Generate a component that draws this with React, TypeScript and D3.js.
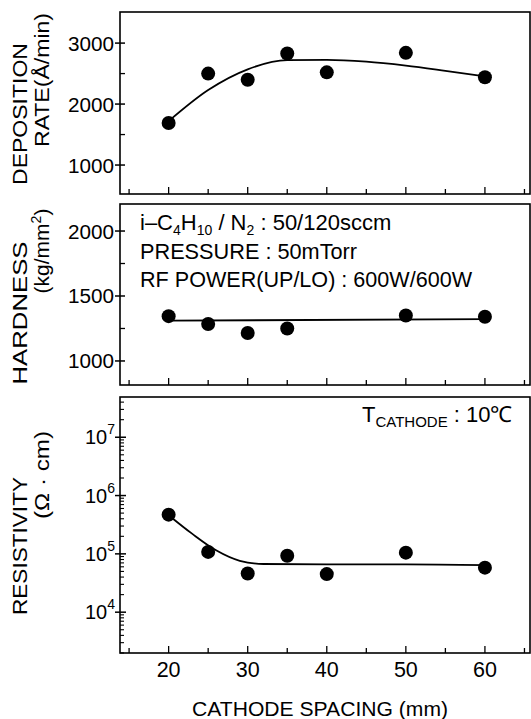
import React from 'react';
import * as d3 from 'd3';

// CATHODE SPACING (mm)
const spacingA = [20, 25, 30, 35, 40, 50, 60];
const depoRate = [1690, 2500, 2400, 2830, 2520, 2840, 2440];
const depoFitX = [20, 25, 30, 35, 40, 45, 50, 55, 60];
const depoFitY = [1720, 2230, 2570, 2720, 2725, 2695, 2630, 2545, 2455];

const spacingB = [20, 25, 30, 35, 50, 60];
const hardness = [1345, 1285, 1215, 1250, 1350, 1340];
const hardFitX = [20, 60];
const hardFitY = [1310, 1322];

const resistivity = [4.7e5, 1.08e5, 4.6e4, 9.3e4, 4.5e4, 1.05e5, 5.8e4];
const resFitX = [20, 23, 26, 29, 32, 40, 50, 60];
const resFitY = [4.6e5, 2.2e5, 1.15e5, 7.6e4, 6.7e4, 6.6e4, 6.6e4, 6.4e4];

const xTicks = [20, 30, 40, 50, 60];
const depoTicks = [1000, 2000, 3000];
const hardTicks = [1000, 1500, 2000];
const resTicks = [4, 5, 6, 7];

const L = 120, R = 530;
const font = 'Liberation Sans, Arial, sans-serif';

const x = d3.scaleLinear().domain([13.85, 65.7]).range([L, R]);
const yTop = d3.scaleLinear().domain([525, 3510]).range([194, 12]);
const yMid = d3.scaleLinear().domain([815, 2208]).range([385, 204]);
const yBot = d3.scaleLog().domain([10 ** 3.3, 10 ** 7.69]).range([653, 397]);

function Frame({ top, bottom }: { top: number; bottom: number }) {
  const minor = d3.range(15, 66, 5);
  return (
    <g>
      <rect x={L} y={top} width={R - L} height={bottom - top} fill="none" stroke="#000" strokeWidth={1.6} />
      {minor.map(v => (
        <line key={v} x1={x(v)} x2={x(v)} y1={bottom} y2={bottom - (v % 10 === 0 ? 7 : 5)} stroke="#000" strokeWidth={1.3} />
      ))}
    </g>
  );
}

function LinearY({ scale, ticks, minors }: { scale: any; ticks: number[]; minors: number[] }) {
  return (
    <g>
      {minors.map(v => (
        <line key={'m' + v} x1={L} x2={L + 5} y1={scale(v)} y2={scale(v)} stroke="#000" strokeWidth={1.3} />
      ))}
      {ticks.map(v => (
        <g key={v}>
          <line x1={L - 5} x2={L + 5} y1={scale(v)} y2={scale(v)} stroke="#000" strokeWidth={1.5} />
          <text x={L - 6} y={scale(v) + 7.5} textAnchor="end" fontSize={20.7}>{v}</text>
        </g>
      ))}
    </g>
  );
}

function Dots({ xs, ys, yScale }: { xs: number[]; ys: number[]; yScale: any }) {
  return (
    <g>
      {xs.map((v, i) => (
        <circle key={i} cx={x(v)} cy={yScale(ys[i])} r={7} fill="#000" />
      ))}
    </g>
  );
}

function Fit({ xs, ys, yScale }: { xs: number[]; ys: number[]; yScale: any }) {
  const line = d3.line<number>()
    .x(d => x(d))
    .y((d, i) => yScale(ys[i]))
    .curve(d3.curveMonotoneX);
  return <path d={line(xs) || ''} fill="none" stroke="#000" strokeWidth={1.8} />;
}

function VTitle({ cx, cy, len, children }: { cx: number; cy: number; len: number; children: any }) {
  return (
    <text transform={`translate(${cx},${cy}) rotate(-90)`} x={-len / 2} fontSize={20}
      textLength={len} lengthAdjust="spacingAndGlyphs">{children}</text>
  );
}

export default function App() {
  const logMinors: number[] = [];
  for (let e = 3; e <= 7; e++) {
    for (let m = 2; m <= 9; m++) {
      const v = m * 10 ** e;
      if (v >= yBot.domain()[0] && v <= yBot.domain()[1]) logMinors.push(v);
    }
  }
  return (
    <svg width={531} height={719} style={{ position: 'absolute', left: 0, top: 0, background: '#fff' }} fontFamily={font}>
      {/* top panel */}
      <Frame top={12} bottom={194} />
      <LinearY scale={yTop} ticks={depoTicks} minors={[1500, 2500]} />
      <Fit xs={depoFitX} ys={depoFitY} yScale={yTop} />
      <Dots xs={spacingA} ys={depoRate} yScale={yTop} />
      <VTitle cx={27} cy={114} len={142}>DEPOSITION</VTitle>
      <VTitle cx={49} cy={80} len={134}>RATE(Å/min)</VTitle>

      {/* middle panel */}
      <Frame top={204} bottom={385} />
      <LinearY scale={yMid} ticks={hardTicks} minors={[1250, 1750]} />
      <Fit xs={hardFitX} ys={hardFitY} yScale={yMid} />
      <Dots xs={spacingB} ys={hardness} yScale={yMid} />
      <VTitle cx={27} cy={313} len={143}>HARDNESS</VTitle>
      <text transform="translate(49,251) rotate(-90)" textAnchor="middle" fontSize={21}>
        (kg/mm<tspan dy={-8} fontSize={14}>2</tspan><tspan dy={8}>)</tspan>
      </text>
      <g fontSize={22}>
        <text x={140} y={230}>
          i–C<tspan dy={5} fontSize={14}>4</tspan><tspan dy={-5}>H</tspan><tspan dy={5} fontSize={14}>10</tspan>
          <tspan dy={-5}> / N</tspan><tspan dy={5} fontSize={14}>2</tspan><tspan dy={-5}> : 50/120sccm</tspan>
        </text>
        <text x={140} y={259} textLength={217} lengthAdjust="spacingAndGlyphs">PRESSURE : 50mTorr</text>
        <text x={140} y={287} textLength={332} lengthAdjust="spacingAndGlyphs">RF POWER(UP/LO) : 600W/600W</text>
      </g>

      {/* bottom panel */}
      <Frame top={397} bottom={653} />
      {logMinors.map(v => (
        <line key={v} x1={L} x2={L + 4} y1={yBot(v)} y2={yBot(v)} stroke="#000" strokeWidth={1.1} />
      ))}
      {resTicks.map(e => (
        <g key={e}>
          <line x1={L - 5} x2={L + 6} y1={yBot(10 ** e)} y2={yBot(10 ** e)} stroke="#000" strokeWidth={1.5} />
          <text x={L - 5} y={yBot(10 ** e) + 7} textAnchor="end" fontSize={20}>
            10<tspan dy={-10} fontSize={14}>{e}</tspan>
          </text>
        </g>
      ))}
      <Fit xs={resFitX} ys={resFitY} yScale={yBot} />
      <Dots xs={spacingA} ys={resistivity} yScale={yBot} />
      <VTitle cx={27} cy={546} len={138}>RESISTIVITY</VTitle>
      <VTitle cx={49} cy={475} len={88}>(Ω · cm)</VTitle>
      <text x={362} y={422} fontSize={22}>
        T<tspan dy={5} fontSize={15}>CATHODE</tspan><tspan dy={-5}> : 10℃</tspan>
      </text>

      {/* x axis */}
      {xTicks.map(v => (
        <text key={v} x={x(v)} y={677} textAnchor="middle" fontSize={21.5}>{v}</text>
      ))}
      <text x={192} y={716} fontSize={20.5} textLength={256} lengthAdjust="spacingAndGlyphs">CATHODE SPACING (mm)</text>
    </svg>
  );
}
